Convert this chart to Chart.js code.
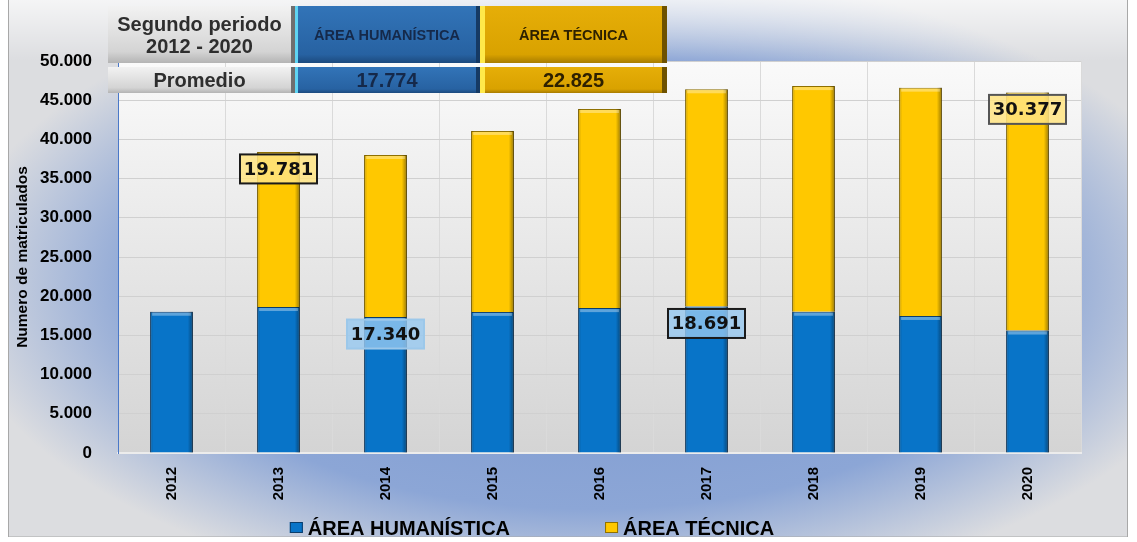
<!DOCTYPE html>
<html>
<head>
<meta charset="utf-8">
<script src="https://cdn.jsdelivr.net/npm/chart.js@4.4.0/dist/chart.umd.min.js"></script>
<style>
  html, body { margin: 0; padding: 0; background: #fff; }
  #wrap { position: relative; width: 1137px; height: 542px; }
  #resumen {
    position: absolute; left: 108px; top: 6px;
    display: grid; grid-template-columns: 187px 185px 187px; grid-template-rows: 57px 26px; row-gap: 4px;
    font-family: 'Liberation Sans', Arial, sans-serif; font-weight: bold; text-align: center;
  }
  #resumen div { display: flex; align-items: center; justify-content: center; box-sizing: border-box; }
  .gris { background: linear-gradient(#f2f2f2, #d4d4d4 80%, #b4b4b4); color: #2e2e2e; border-right: 4px solid #6f6f6f; }
  .azul { background: linear-gradient(#3274b8, #2762a2 85%, #1c4a7e); color: #15294a; border-left: 3px solid #5fd4f2; border-right: 4px solid #163a64; }
  .oro  { background: linear-gradient(#e6ae08, #d9a200 85%, #a87c00); color: #2e2100; border-left: 5px solid #ffe94a; border-right: 5px solid #6e5200; }
  .cab { font-size: 20px; line-height: 22px; }
  .mini { font-size: 14.5px; }
  .fila { font-size: 20px; }
</style>
</head>
<body>
<div id="wrap">
  <canvas id="myChart" width="1137" height="542"></canvas>
  <div id="resumen">
    <div class="gris cab">Segundo periodo<br>2012 - 2020</div>
    <div class="azul mini">ÁREA HUMANÍSTICA</div>
    <div class="oro mini">ÁREA TÉCNICA</div>
    <div class="gris fila">Promedio</div>
    <div class="azul fila" id="promH"></div>
    <div class="oro fila" id="promT"></div>
  </div>
</div>
<script>
let years = ['2012', '2013', '2014', '2015', '2016', '2017', '2018', '2019', '2020'];
let humanistica = [18020, 18620, 17340, 18000, 18480, 18691, 18020, 17480, 15620];
let tecnica = [0, 19781, 20670, 23080, 25400, 27700, 28780, 29120, 30377];
let promedios = [17774, 22825];
let seriesNames = ['ÁREA HUMANÍSTICA', 'ÁREA TÉCNICA'];
let colorHex = ['#0874c8', '#ffc800'];
let borderHex = ['#0b3d6b', '#8f7000'];
// [dataset, index] of the values that carry a label box
let labelled = [[1, 1], [0, 2], [0, 5], [1, 8]];

let fmt = (n) => String(n).replace(/\B(?=(\d{3})+(?!\d))/g, '.');

document.getElementById('promH').textContent = fmt(promedios[0]);
document.getElementById('promT').textContent = fmt(promedios[1]);

let fondo = {
  id: 'fondo',
  beforeDraw(chart) {
    let { ctx, width, height, chartArea: a } = chart;
    ctx.save();
    ctx.fillStyle = '#fff';
    ctx.fillRect(0, 0, width, height);
    ctx.beginPath();
    ctx.rect(8, 0, 1120, 537);
    ctx.clip();
    ctx.save();
    ctx.translate(590, 285);
    ctx.scale(1, 0.5);
    let g = ctx.createRadialGradient(0, 0, 0, 0, 0, 640);
    g.addColorStop(0, '#7a97cf');
    g.addColorStop(0.7, '#8ca6d6');
    g.addColorStop(1, '#dcdde0');
    ctx.fillStyle = g;
    ctx.fillRect(-800, -800, 1600, 1600);
    ctx.restore();
    let top = ctx.createLinearGradient(0, 0, 0, a.top);
    top.addColorStop(0, 'rgba(255,255,255,0.7)');
    top.addColorStop(1, 'rgba(255,255,255,0)');
    ctx.fillStyle = top;
    ctx.fillRect(0, 0, width, a.top);
    ctx.strokeStyle = '#a8a8a8';
    ctx.strokeRect(8.5, -1, 1119, 538);
    let p = ctx.createLinearGradient(0, a.top, 0, a.bottom);
    p.addColorStop(0, '#fafafa');
    p.addColorStop(1, '#d4d4d4');
    ctx.fillStyle = p;
    ctx.fillRect(a.left, a.top, a.right - a.left, a.bottom - a.top);
    ctx.strokeStyle = '#4a78c8';
    ctx.lineWidth = 1;
    ctx.strokeRect(a.left + 0.5, a.top + 0.5, a.right - a.left, a.bottom - a.top);
    ctx.restore();
  }
};

let relieve = {
  id: 'relieve',
  afterDatasetsDraw(chart) {
    let ctx = chart.ctx;
    chart.data.datasets.forEach((ds, i) => {
      chart.getDatasetMeta(i).data.forEach((bar) => {
        let h = bar.base - bar.y;
        if (h < 1) return;
        let l = bar.x - bar.width / 2;
        let g = ctx.createLinearGradient(l, 0, l + bar.width, 0);
        g.addColorStop(0, 'rgba(0,0,0,0.18)');
        g.addColorStop(0.08, 'rgba(0,0,0,0)');
        g.addColorStop(0.88, 'rgba(0,0,0,0)');
        g.addColorStop(1, 'rgba(0,0,0,0.4)');
        ctx.save();
        ctx.fillStyle = g;
        ctx.fillRect(l, bar.y, bar.width, h);
        ctx.fillStyle = 'rgba(255,255,255,0.35)';
        ctx.fillRect(l + 2, bar.y + 1, bar.width - 4, 3);
        ctx.restore();
      });
    });
  }
};

let etiquetas = {
  id: 'etiquetas',
  afterDatasetsDraw(chart) {
    let ctx = chart.ctx;
    let fills = ['rgba(150,200,240,0.8)', 'rgba(255,228,130,0.85)'];
    labelled.forEach(([d, i], k) => {
      let bar = chart.getDatasetMeta(d).data[i];
      let txt = fmt(chart.data.datasets[d].data[i]);
      let w = 77, h = 29;
      let cx = bar.x, cy = bar.y + 17;
      ctx.save();
      ctx.fillStyle = fills[d];
      ctx.fillRect(cx - w / 2, cy - h / 2, w, h);
      ctx.lineWidth = 2;
      ctx.strokeStyle = k === 1 ? '#9cc8ea' : (k === 3 ? '#555' : '#1a1a1a');
      ctx.strokeRect(cx - w / 2, cy - h / 2, w, h);
      ctx.fillStyle = '#111';
      ctx.font = 'bold 18px "DejaVu Sans"';
      ctx.textAlign = 'center';
      ctx.textBaseline = 'middle';
      ctx.fillText(txt, cx, cy + 1);
      ctx.restore();
    });
  }
};

// legend drawn by hand so the two items keep the wide gap of the original
let leyenda = {
  id: 'leyenda',
  afterDraw(chart) {
    let ctx = chart.ctx;
    ctx.save();
    ctx.font = 'bold 20px "Liberation Sans"';
    ctx.textBaseline = 'middle';
    let gap = 95, box = 13, sp = 5;
    let widths = chart.data.datasets.map((ds) => box + sp + ctx.measureText(ds.label).width);
    let total = widths.reduce((s, w) => s + w, 0) + gap * (widths.length - 1);
    let x = 532 - total / 2, y = 528;
    chart.data.datasets.forEach((ds, i) => {
      ctx.fillStyle = ds.backgroundColor;
      ctx.fillRect(x, y - 6, box, box - 2);
      ctx.strokeStyle = ds.borderColor;
      ctx.lineWidth = 1;
      ctx.strokeRect(x + 0.5, y - 5.5, box - 1, box - 3);
      ctx.fillStyle = '#000';
      ctx.fillText(ds.label, x + box + sp, y + 1);
      x += widths[i] + gap;
    });
    ctx.restore();
  }
};

let ctx = document.getElementById('myChart').getContext('2d');
let myChart = new Chart(ctx, {
  type: 'bar',
  data: {
    labels: years,
    datasets: [{
      label: seriesNames[0],
      data: humanistica,
      backgroundColor: colorHex[0],
      borderColor: borderHex[0],
      borderWidth: 1
    }, {
      label: seriesNames[1],
      data: tecnica,
      backgroundColor: colorHex[1],
      borderColor: borderHex[1],
      borderWidth: 1
    }]
  },
  options: {
    responsive: false,
    animation: false,
    layout: { padding: { top: 61, right: 56, left: 13, bottom: 42 } },
    datasets: { bar: { categoryPercentage: 0.8, barPercentage: 0.5 } },
    scales: {
      x: {
        stacked: true,
        afterFit: (s) => { s.height = 47; },
        grid: { color: '#dadada', drawTicks: false },
        border: { color: '#ececec', width: 2 },
        ticks: {
          color: '#000',
          minRotation: 90,
          maxRotation: 90,
          padding: 14,
          font: { family: 'Liberation Sans', weight: 'bold', size: 15 }
        }
      },
      y: {
        stacked: true,
        min: 0,
        max: 50000,
        afterFit: (s) => { s.width = 105; },
        grid: { color: '#d0d0d0', drawTicks: false },
        border: { color: '#4a78c8' },
        ticks: {
          stepSize: 5000,
          color: '#000',
          padding: 26,
          font: { family: 'Liberation Sans', weight: 'bold', size: 17 },
          callback: (v) => fmt(v)
        },
        title: {
          display: true,
          text: 'Numero de matriculados',
          color: '#000',
          padding: { top: 0, bottom: 2 },
          font: { family: 'Liberation Sans', weight: 'bold', size: 15.5 }
        }
      }
    },
    plugins: {
      legend: { display: false },
      tooltip: { enabled: false }
    }
  },
  plugins: [fondo, relieve, etiquetas, leyenda]
});
</script>
</body>
</html>
